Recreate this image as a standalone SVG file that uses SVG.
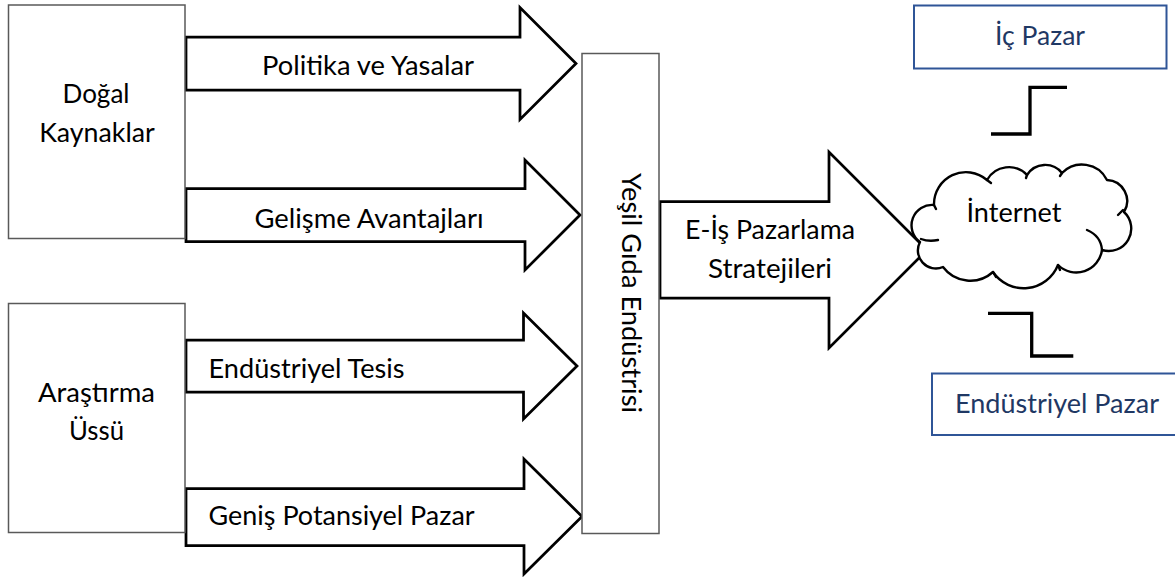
<svg xmlns="http://www.w3.org/2000/svg" width="1175" height="577" viewBox="0 0 1175 577">
<style>
  .box { fill: #ffffff; stroke: #595959; stroke-width: 1.5; }
  .bbox { fill: #ffffff; stroke: #2F5597; stroke-width: 2; }
  .arrow { fill: #ffffff; stroke: #000000; stroke-width: 2.75; stroke-linejoin: miter; }
  .step { fill: none; stroke: #000000; stroke-width: 3.3; }
  .cloud { fill: #ffffff; stroke: #000000; stroke-width: 2.4; stroke-linejoin: round; }
  .hook { fill: none; stroke: #000000; stroke-width: 2.4; stroke-linecap: round; }
  text { font-family: Lato, "Noto Sans", "Liberation Sans", sans-serif; font-size: 26.5px; fill: #000000; }
  .mid { text-anchor: middle; }
  .blue { fill: #1F3864; }
</style>
<rect width="1175" height="577" fill="#ffffff"/>

<g id="connectors">
  <polygon class="arrow" points="186,37 520,37 520,7.5 576,63.5 520,119.5 520,90 186,90"/>
  <polygon class="arrow" points="186,188.5 525,188.5 525,160 580,215 525,270 525,241.5 186,241.5"/>
  <polygon class="arrow" points="186,340 523.5,340 523.5,313 577,366 523.5,419 523.5,392 186,392"/>
  <polygon class="arrow" points="186,488.5 524,488.5 524,459 582,516.5 524,574 524,545.5 186,545.5"/>
  <polygon class="arrow" points="660,201.5 829,201.5 829,152 927,250 829,348 829,298 660,298"/>
  <polyline class="step" points="991,134 1030,134 1030,87.3 1067,87.3"/>
  <polyline class="step" points="988,313.3 1031.7,313.3 1031.7,356 1073.3,356"/>
  <text x="368" y="75" class="mid" textLength="212" lengthAdjust="spacingAndGlyphs">Politika ve Yasalar</text>
  <text x="369" y="228" class="mid" textLength="229" lengthAdjust="spacingAndGlyphs">Gelişme Avantajları</text>
  <text x="208.6" y="378" textLength="196" lengthAdjust="spacingAndGlyphs">Endüstriyel Tesis</text>
  <text x="208.6" y="525" textLength="266" lengthAdjust="spacingAndGlyphs">Geniş Potansiyel Pazar</text>
  <text x="770" y="239" class="mid" textLength="170" lengthAdjust="spacingAndGlyphs">E-İş Pazarlama</text>
  <text x="770" y="278" class="mid" textLength="124" lengthAdjust="spacingAndGlyphs">Stratejileri</text>
</g>

<g id="node-dogal">
  <rect class="box" x="8.5" y="5" width="176.5" height="233.5"/>
  <text x="96" y="103" class="mid" textLength="67" lengthAdjust="spacingAndGlyphs">Doğal</text>
  <text x="97" y="142" class="mid" textLength="115.6" lengthAdjust="spacingAndGlyphs">Kaynaklar</text>
</g>

<g id="node-arastirma">
  <rect class="box" x="8.5" y="303.5" width="176.5" height="229"/>
  <text x="96.5" y="401.7" class="mid" textLength="117" lengthAdjust="spacingAndGlyphs">Araştırma</text>
  <text x="96.5" y="440" class="mid" textLength="55" lengthAdjust="spacingAndGlyphs">Üssü</text>
</g>

<g id="node-yesil">
  <rect class="box" x="582" y="53.5" width="77" height="480"/>
  <text transform="translate(622,293) rotate(90)" x="0" y="0" class="mid" textLength="240" lengthAdjust="spacingAndGlyphs">Yeşil Gıda Endüstrisi</text>
</g>

<g id="node-internet">
  <path class="cloud" d="M920,242 A20.5,20.5 0 0 1 934,205 A32,32 0 0 1 987,180 A25,25 0 0 1 1027,175 A21.5,21.5 0 0 1 1062,173 A28,28 0 0 1 1107,180 A21,21 0 0 1 1124,212 A22.5,22.5 0 0 1 1102,250 A26,26 0 0 1 1058,265 A37,37 0 0 1 993,272 A34,34 0 0 1 943,267 A18,18 0 0 1 920,242 Z"/>
  <path class="hook" d="M921,239 Q929,242 938,240"/>
  <path class="hook" d="M987,180 L991,183"/>
  <path class="hook" d="M1027,175 L1026,178"/>
  <path class="hook" d="M1062,173 L1060,176"/>
  <path class="hook" d="M1118,215 L1123,210"/>
  <path class="hook" d="M1087,230 Q1101,236 1102,250"/>
  <path class="hook" d="M1058,265 L1060,270"/>
  <path class="hook" d="M993,272 L996,277"/>
  <path class="hook" d="M934,205 L936,209"/>
  <text x="1014" y="221.7" class="mid" textLength="95" lengthAdjust="spacingAndGlyphs">İnternet</text>
</g>

<g id="node-icpazar">
  <rect class="bbox" x="914" y="5.5" width="252.5" height="63"/>
  <text x="1040" y="45" class="mid blue" textLength="90" lengthAdjust="spacingAndGlyphs">İç Pazar</text>
</g>

<g id="node-endustriyelpazar">
  <rect class="bbox" x="932" y="373.5" width="260" height="61.5"/>
  <text x="1057" y="413.3" class="mid blue" textLength="204" lengthAdjust="spacingAndGlyphs">Endüstriyel Pazar</text>
</g>
</svg>
